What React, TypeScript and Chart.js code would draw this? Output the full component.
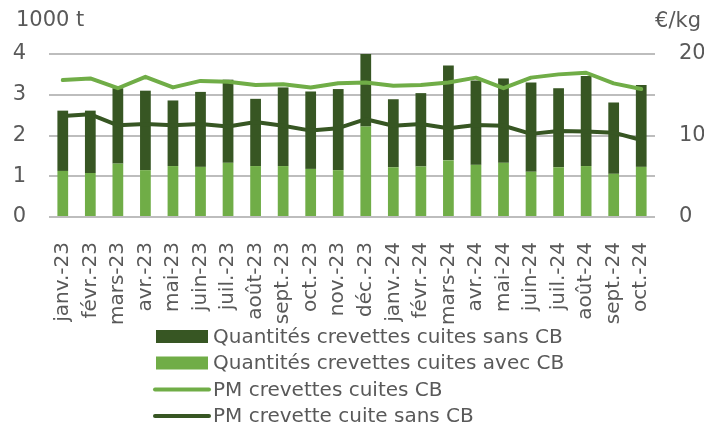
import { useEffect, useRef } from 'react';
import { Chart, registerables } from 'chart.js';

Chart.register(...registerables);

const months = [
  'janv.-23', 'févr.-23', 'mars-23', 'avr.-23', 'mai-23', 'juin-23', 'juil.-23', 'août-23',
  'sept.-23', 'oct.-23', 'nov.-23', 'déc.-23', 'janv.-24', 'févr.-24', 'mars-24', 'avr.-24',
  'mai-24', 'juin-24', 'juil.-24', 'août-24', 'sept.-24', 'oct.-24',
];

// Quantities (1000 t)
const qtyAvecCB = [1.13, 1.08, 1.31, 1.15, 1.25, 1.23, 1.33, 1.25, 1.25, 1.18, 1.15, 2.22, 1.22, 1.24, 1.39, 1.28, 1.33, 1.11, 1.22, 1.25, 1.06, 1.23];
const qtySansCB = [1.48, 1.53, 1.85, 1.95, 1.61, 1.84, 2.04, 1.65, 1.93, 1.90, 1.99, 1.78, 1.67, 1.80, 2.33, 2.07, 2.07, 2.19, 1.94, 2.21, 1.75, 2.01];

// Average prices (€/kg)
const pmCB = [16.8, 17.0, 15.8, 17.2, 15.9, 16.7, 16.6, 16.2, 16.3, 15.9, 16.4, 16.5, 16.1, 16.2, 16.5, 17.1, 15.8, 17.1, 17.5, 17.7, 16.4, 15.7];
const pmSansCB = [12.4, 12.6, 11.25, 11.4, 11.25, 11.4, 11.1, 11.65, 11.2, 10.6, 10.9, 12.0, 11.2, 11.4, 10.9, 11.3, 11.2, 10.2, 10.55, 10.5, 10.35, 9.45];

const leftMax = 4;
const leftStep = 1;
const rightMax = 20;
const rightStep = 10;

const DARK = '#375623';
const LIGHT = '#70AD47';
const TEXT = '#595959';
const GRID = '#bdbdbd';
const FONT = 'DejaVu Sans';

const legendItems = [
  { label: 'Quantités crevettes cuites sans CB', color: DARK, kind: 'box' },
  { label: 'Quantités crevettes cuites avec CB', color: LIGHT, kind: 'box' },
  { label: 'PM crevettes cuites CB', color: LIGHT, kind: 'line' },
  { label: 'PM crevette cuite sans CB', color: DARK, kind: 'line' },
];

const overlay = {
  id: 'overlay',
  afterDraw(chart: any) {
    const ctx = chart.ctx as CanvasRenderingContext2D;
    ctx.save();
    ctx.fillStyle = TEXT;
    ctx.font = `21px "${FONT}"`;
    ctx.textBaseline = 'middle';
    ctx.textAlign = 'left';
    ctx.fillText('1000 t', 16, 21);
    ctx.textAlign = 'right';
    ctx.fillText('€/kg', 701, 22);

    ctx.font = `20px "${FONT}"`;
    ctx.textAlign = 'left';
    legendItems.forEach((it, i) => {
      const y = 336.5 + i * 26.5;
      if (it.kind === 'box') {
        ctx.fillStyle = it.color;
        ctx.fillRect(156, y - 6.5, 52, 13);
      } else {
        ctx.strokeStyle = it.color;
        ctx.lineWidth = 4;
        ctx.lineCap = 'round';
        ctx.beginPath();
        ctx.moveTo(155, y);
        ctx.lineTo(209, y);
        ctx.stroke();
      }
      ctx.fillStyle = TEXT;
      ctx.fillText(it.label, 213, y + 1);
    });
    ctx.restore();
  },
};

export default function App() {
  const ref = useRef<HTMLCanvasElement>(null);

  useEffect(() => {
    if (!ref.current) return;
    const chart = new Chart(ref.current, {
      type: 'bar',
      data: {
        labels: months,
        datasets: [
          {
            type: 'line',
            label: 'PM crevettes cuites CB',
            data: pmCB,
            yAxisID: 'y1',
            borderColor: LIGHT,
            backgroundColor: LIGHT,
            borderWidth: 4,
            pointRadius: 0,
            tension: 0,
            fill: false,
            borderCapStyle: 'round',
            borderJoinStyle: 'round',
            order: 0,
          } as any,
          {
            type: 'line',
            label: 'PM crevette cuite sans CB',
            data: pmSansCB,
            yAxisID: 'y1',
            borderColor: DARK,
            backgroundColor: DARK,
            borderWidth: 4,
            pointRadius: 0,
            tension: 0,
            fill: false,
            borderCapStyle: 'round',
            borderJoinStyle: 'round',
            order: 0,
          } as any,
          {
            type: 'bar',
            label: 'Quantités crevettes cuites avec CB',
            data: qtyAvecCB,
            yAxisID: 'y',
            backgroundColor: LIGHT,
            stack: 'q',
            categoryPercentage: 1,
            barPercentage: 0.39,
            order: 1,
          },
          {
            type: 'bar',
            label: 'Quantités crevettes cuites sans CB',
            data: qtySansCB,
            yAxisID: 'y',
            backgroundColor: DARK,
            stack: 'q',
            categoryPercentage: 1,
            barPercentage: 0.39,
            order: 1,
          },
        ],
      },
      options: {
        responsive: false,
        animation: false,
        layout: { padding: { top: 54, left: 0, right: 0, bottom: 0 } },
        plugins: {
          legend: { display: false },
          tooltip: { enabled: false },
        },
        scales: {
          x: {
            stacked: true,
            grid: { display: false },
            border: { display: false },
            ticks: {
              autoSkip: false,
              maxRotation: 90,
              minRotation: 90,
              padding: 17,
              color: TEXT,
              font: { family: FONT, size: 20 },
            },
            afterFit: (s: any) => { s.height = 211; },
          },
          y: {
            stacked: true,
            position: 'left',
            min: 0,
            max: leftMax,
            grid: { display: true, drawOnChartArea: true, color: GRID, lineWidth: 2, tickLength: 0 },
            border: { display: false },
            ticks: {
              stepSize: leftStep,
              padding: 23,
              color: TEXT,
              font: { family: FONT, size: 21 },
            },
            afterFit: (s: any) => { s.width = 49; },
          },
          y1: {
            position: 'right',
            min: 0,
            max: rightMax,
            grid: { drawOnChartArea: false, tickLength: 0 },
            border: { display: false },
            ticks: {
              stepSize: rightStep,
              padding: 24,
              color: TEXT,
              font: { family: FONT, size: 21 },
            },
            afterFit: (s: any) => { s.width = 49; },
          },
        },
      },
      plugins: [overlay],
    });
    return () => chart.destroy();
  }, []);

  return (
    <div style={{ position: 'absolute', left: 0, top: 0, width: 704, height: 428 }}>
      <canvas ref={ref} width={704} height={428} />
    </div>
  );
}
